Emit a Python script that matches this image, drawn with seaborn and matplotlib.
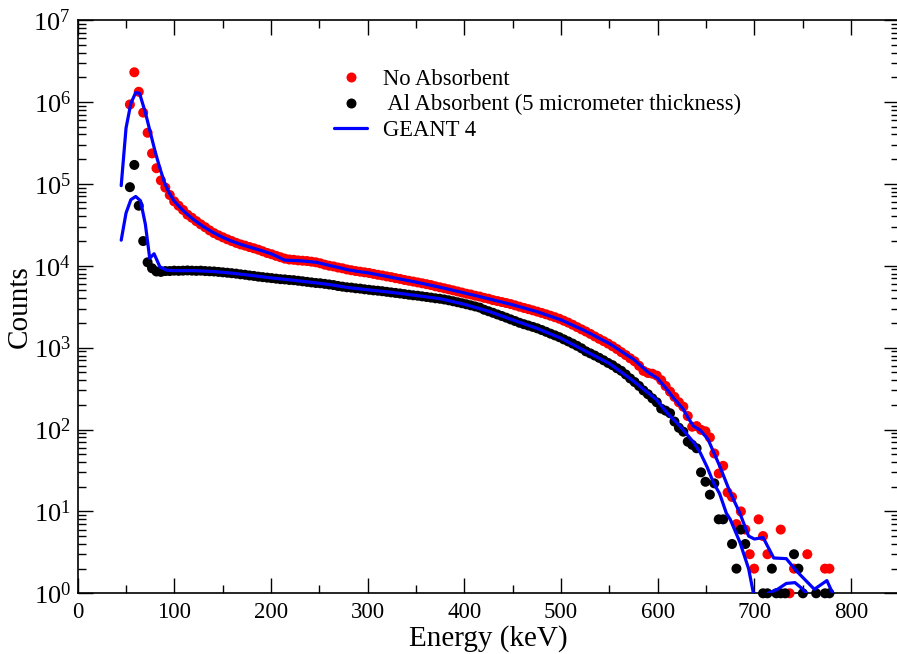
import numpy as np
import pandas as pd
import matplotlib
matplotlib.use("Agg")
import matplotlib.pyplot as plt
import seaborn as sns
from matplotlib.lines import Line2D
from matplotlib.ticker import (FixedLocator, LogFormatterSciNotation, LogLocator,
                               MultipleLocator, NullFormatter)

# ---------------- data ----------------
# bin centres of the measured spectra (keV)
energy = np.linspace(54.0, 782.2, 160)

no_absorbent = [
    930000, 2300000, 1330000, 740000, 420000, 235000, 155000, 110000, 90000, 73000,
    61000, 54000, 48000, 42000, 38500, 35000, 32000, 29500, 27000, 25000,
    23500, 22200, 21000, 20000, 19000, 18200, 17600, 16900, 16300, 15700,
    15000, 14300, 13800, 13200, 12700, 12200, 11900, 11800, 11600, 11500,
    11400, 11200, 11000, 10700, 10300, 10000, 9800, 9500, 9300, 9000,
    8800, 8600, 8450, 8300, 8150, 7950, 7750, 7600, 7400, 7250,
    7050, 6900, 6700, 6550, 6400, 6250, 6100, 5950, 5800, 5600,
    5450, 5300, 5150, 5000, 4850, 4700, 4550, 4450, 4300, 4200,
    4050, 3950, 3800, 3700, 3600, 3500, 3400, 3280, 3160, 3050,
    2950, 2850, 2750, 2650, 2550, 2450, 2350, 2250, 2130, 2020,
    1900, 1780, 1670, 1570, 1470, 1370, 1280, 1200, 1120, 1040,
    960, 880, 810, 740, 680, 600, 520, 490, 480, 455,
    400, 340, 290, 250, 215, 190, 146, 108, 110, 99,
    95, 80, 51, 29, 36, 17, 15, 7, 10, 6,
    3, 2, 8, 5, 3, 0, 0, 6, 0, 1,
    2, 0, 0, 3, 0, 0, 0, 2, 2, 0,
]

al_absorbent = [
    91000, 170000, 54000, 20000, 11000, 9300, 8500, 8400, 8600, 8600,
    8700, 8650, 8700, 8750, 8700, 8650, 8700, 8600, 8550, 8500,
    8400, 8300, 8200, 8100, 8000, 7850, 7750, 7600, 7500, 7350,
    7250, 7150, 7050, 6950, 6850, 6800, 6700, 6650, 6550, 6450,
    6350, 6250, 6150, 6100, 6000, 5900, 5800, 5650, 5550, 5450,
    5400, 5300, 5250, 5150, 5080, 5000, 4950, 4880, 4800, 4720,
    4650, 4580, 4500, 4420, 4350, 4300, 4220, 4150, 4080, 4000,
    3950, 3870, 3780, 3680, 3580, 3480, 3380, 3280, 3180, 3080,
    2900, 2780, 2660, 2540, 2430, 2320, 2210, 2110, 2010, 1930,
    1860, 1790, 1720, 1640, 1560, 1480, 1410, 1340, 1260, 1190,
    1120, 1050, 980, 900, 850, 800, 750, 700, 650, 610,
    560, 520, 470, 420, 380, 340, 300, 270, 240, 215,
    180, 170, 158, 125, 105, 94, 71, 65, 59, 30,
    23, 16, 22, 8, 8, 0, 4, 2, 6, 4,
    0, 0, 0, 1, 1, 2, 1, 1, 1, 0,
    3, 2, 1, 0, 0, 1, 0, 1, 1, 0,
]

# GEANT 4 simulation, no absorbent
geant_no_energy = [45, 50, 55, 60, 64, 70, 75, 80, 85, 90, 95, 100, 110, 120, 130, 140,
                   150, 160, 170, 180, 190, 200, 206, 214, 230, 247, 260, 270, 280, 290,
                   300, 325, 350, 375, 400, 425, 450, 475, 500, 525, 550, 575, 590, 600,
                   610, 616, 626, 632, 637, 644, 652, 664, 675, 685, 694, 700, 709, 720,
                   733, 740, 747, 762, 775, 781]
geant_no_counts = [95000, 480000, 960000, 1300000, 1270000, 740000, 430000, 250000, 155000,
                   102000, 76000, 61000, 46000, 36500, 30000, 25500, 22200, 19800, 18000,
                   16600, 15300, 14000, 13000, 11700, 11500, 11000, 10100, 9500, 8900, 8500,
                   8200, 7200, 6300, 5450, 4650, 3950, 3330, 2750, 2180, 1600, 1120, 720,
                   500, 420, 305, 245, 180, 135, 110, 98, 76, 36, 17, 9.5, 5.0, 4.6, 4.8,
                   2.7, 2.65, 2.1, 1.7, 1.12, 1.43, 1.0]

# GEANT 4 simulation, Al absorbent (main part and the small tail piece)
geant_al_energy = [45, 50, 55, 60, 65, 70, 74.5, 79, 85, 92, 100, 120, 140, 160, 180, 200,
                   220, 240, 260, 280, 300, 325, 350, 375, 400, 425, 450, 475, 500, 525,
                   550, 575, 590, 599, 610, 623, 637, 644, 651, 658, 664, 671, 675, 685,
                   694, 699]
geant_al_counts = [20500, 44000, 64000, 70000, 62000, 32000, 12300, 14000, 9700, 8800, 8700,
                   8700, 8500, 8100, 7600, 7100, 6700, 6300, 5900, 5400, 5080, 4720, 4330,
                   3950, 3380, 2780, 2180, 1720, 1300, 910, 640, 390, 280, 229, 158, 110,
                   70, 52, 35, 22, 16.5, 9.5, 8, 4.2, 2.0, 1.0]
geant_al_tail_energy = [714, 724, 733, 742, 749, 754]
geant_al_tail_counts = [1.0, 1.12, 1.32, 1.35, 1.15, 1.0]

y_decades = [1e0, 1e1, 1e2, 1e3, 1e4, 1e5, 1e6, 1e7]

label_no = "No Absorbent"
label_al = " Al Absorbent (5 micrometer thickness)"
label_sim = "GEANT 4"

# ---------------- tables ----------------
pts = pd.DataFrame({
    "Energy": np.concatenate([energy, energy]),
    "Counts": np.array(no_absorbent + al_absorbent, dtype=float),
    "Series": [label_no] * len(energy) + [label_al] * len(energy),
})
pts = pts[pts["Counts"] > 0]

sim = pd.DataFrame({
    "Energy": geant_no_energy + geant_al_energy + geant_al_tail_energy,
    "Counts": geant_no_counts + geant_al_counts + geant_al_tail_counts,
    "seg": [0] * len(geant_no_energy) + [1] * len(geant_al_energy) + [2] * len(geant_al_tail_energy),
})

# ---------------- style ----------------
sns.set_style("ticks")
plt.rcParams["font.family"] = ["Liberation Serif", "DejaVu Serif"]
plt.rcParams["mathtext.fontset"] = "custom"
plt.rcParams["mathtext.rm"] = "Liberation Serif"
plt.rcParams["mathtext.it"] = "Liberation Serif:italic"
plt.rcParams["mathtext.bf"] = "Liberation Serif:bold"
for key in ["text.color", "axes.labelcolor", "xtick.color", "ytick.color", "axes.edgecolor"]:
    plt.rcParams[key] = "black"

fig = plt.figure(figsize=(8.97, 6.54), dpi=100)
ax = fig.add_axes([77.7 / 897, 1 - 593.3 / 654, (899.4 - 77.7) / 897, (593.3 - 20) / 654])
ax.set_yscale("log")

RED = "#ff0000"
BLUE = "#0000ff"

sns.scatterplot(data=pts, x="Energy", y="Counts", hue="Series",
                palette={label_no: RED, label_al: "#000000"},
                s=52, linewidth=0, legend=False, ax=ax, clip_on=False, zorder=3)
sns.lineplot(data=sim, x="Energy", y="Counts", units="seg", estimator=None,
             color=BLUE, lw=2.3, sort=False, legend=False, ax=ax, zorder=4)

ax.set_xlim(0, 850)
ax.set_ylim(1, 1e7)

ax.xaxis.set_major_locator(MultipleLocator(100))
ax.xaxis.set_minor_locator(MultipleLocator(50))
ax.yaxis.set_major_locator(FixedLocator(y_decades))
ax.yaxis.set_major_formatter(LogFormatterSciNotation(base=10))
ax.yaxis.set_minor_locator(LogLocator(base=10, subs=np.arange(2, 10), numticks=100))
ax.yaxis.set_minor_formatter(NullFormatter())

ax.tick_params(which="both", direction="in", top=True, right=True, width=1.0, colors="black")
ax.tick_params(which="major", length=11)
ax.tick_params(which="minor", length=5.5)
ax.tick_params(axis="x", which="major", labelsize=16.5, pad=6)
ax.tick_params(axis="y", which="major", labelsize=19, pad=5)
for sp in ax.spines.values():
    sp.set_linewidth(1.2)
    sp.set_color("black")

ax.set_xlabel("Energy (keV)", fontsize=21, labelpad=2)
ax.set_ylabel("Counts", fontsize=21)
ax.yaxis.set_label_coords(-0.0544, 0.5)

handles = [
    Line2D([], [], marker="o", color=RED, ls="none", markersize=7.2, markeredgewidth=0),
    Line2D([], [], marker="o", color="black", ls="none", markersize=7.2, markeredgewidth=0),
    Line2D([], [], color=BLUE, lw=2.3),
]
ax.legend(handles, [label_no, label_al, label_sim], frameon=False, fontsize=16.3,
          loc="upper left", bbox_to_anchor=(334 / 897, 1 - 69 / 654),
          bbox_transform=fig.transFigure, borderpad=0, borderaxespad=0,
          handlelength=1.46, handletextpad=0.7, labelspacing=0.19)

fig.savefig("out.png", dpi=100)
